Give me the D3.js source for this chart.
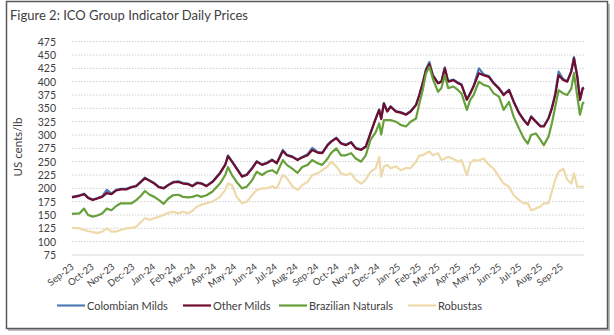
<!DOCTYPE html>
<html>
<head>
<meta charset="utf-8">
<script src="https://cdn.jsdelivr.net/npm/d3@7/dist/d3.min.js"></script>
<style>
html,body{margin:0;padding:0;background:#fff;}
svg{display:block;}
text{font-family:Lato,"Open Sans",sans-serif;fill:#404040;}
</style>
</head>
<body>
<svg id="chart" width="614" height="335"></svg>
<script>
const title = "Figure 2: ICO Group Indicator Daily Prices";
const yAxisTitle = "US cents/lb";
const seriesNames = ["Colombian Milds", "Other Milds", "Brazilian Naturals", "Robustas"];
const yTicks = [75,100,125,150,175,200,225,250,275,300,325,350,375,400,425,450,475];
const xTickMonths = ["2023-09-01","2023-10-01","2023-11-01","2023-12-01","2024-01-01","2024-02-01","2024-03-01",
"2024-04-01","2024-05-01","2024-06-01","2024-07-01","2024-08-01","2024-09-01","2024-10-01","2024-11-01","2024-12-01",
"2025-01-01","2025-02-01","2025-03-01","2025-04-01","2025-05-01","2025-06-01","2025-07-01","2025-08-01","2025-09-01"];

const dates = [
"2023-09-01","2023-09-12","2023-09-19","2023-09-25","2023-10-02","2023-10-09","2023-10-16","2023-10-23","2023-10-30",
"2023-11-06","2023-11-13","2023-11-21","2023-11-29","2023-12-06","2023-12-13","2023-12-19","2023-12-26",
"2024-01-02","2024-01-09","2024-01-16","2024-01-23","2024-01-30","2024-02-07","2024-02-14","2024-02-21","2024-02-28",
"2024-03-06","2024-03-12","2024-03-20","2024-03-29","2024-04-09","2024-04-17","2024-04-21","2024-04-27",
"2024-05-04","2024-05-12","2024-05-19","2024-05-27","2024-06-03","2024-06-11","2024-06-18","2024-06-26",
"2024-07-03","2024-07-12","2024-07-18","2024-07-26","2024-08-03","2024-08-10","2024-08-18","2024-08-25",
"2024-09-02","2024-09-09","2024-09-17","2024-09-22","2024-09-30","2024-10-07","2024-10-14","2024-10-22","2024-10-29",
"2024-11-06","2024-11-13","2024-11-20","2024-11-28","2024-12-03","2024-12-06","2024-12-10","2024-12-15","2024-12-20","2024-12-28",
"2025-01-04","2025-01-12","2025-01-19","2025-01-27","2025-02-01","2025-02-06","2025-02-11","2025-02-16","2025-02-21",
"2025-03-01","2025-03-06","2025-03-11","2025-03-16","2025-03-24","2025-03-31","2025-04-05","2025-04-13","2025-04-18","2025-04-23",
"2025-05-01","2025-05-08","2025-05-16","2025-05-23","2025-05-31","2025-06-07","2025-06-15","2025-06-22","2025-06-30",
"2025-07-07","2025-07-13","2025-07-18","2025-07-25","2025-08-01","2025-08-06","2025-08-13","2025-08-18","2025-08-23","2025-08-28",
"2025-09-04","2025-09-10","2025-09-16","2025-09-20","2025-09-25","2025-09-29","2025-10-03","2025-10-05"
];

const colombianMilds = [
184,187,190,183,179,182,185,197,190,
197,199,199,203,205,213,220,215,
210,203,201,207,212,213,210,209,205,
211,210,205,213,229,245,262,251,
238,223,226,238,251,245,248,254,
248,272,263,260,254,259,264,276,
268,267,282,288,295,285,282,287,276,
273,279,304,332,348,331,360,345,354,345,
343,339,345,357,376,398,424,437,413,
398,401,427,401,404,398,395,367,379,392,
425,414,410,398,388,376,385,363,342,
329,320,335,326,317,317,332,351,377,419,
405,401,420,446,410,367,388,389
];

const otherMilds = [
183,186,189,182,178,181,184,191,189,
196,198,198,202,204,212,219,214,
209,202,200,206,211,212,209,208,204,
210,209,204,212,228,244,260,250,
237,222,225,237,250,244,247,253,
247,270,262,259,253,258,262,272,
267,266,281,287,294,284,281,286,275,
272,278,303,331,347,330,359,344,353,344,
342,338,344,356,375,397,422,433,412,
397,400,425,400,403,397,394,366,378,391,
416,412,409,397,387,375,384,362,341,
328,319,334,325,316,316,331,350,375,412,
403,400,419,444,409,366,387,388
];

const brazilianNaturals = [
152,153,162,150,147,149,153,162,159,
167,172,172,172,178,186,195,188,
184,178,171,181,187,188,184,183,184,
187,184,187,194,209,225,240,225,
212,200,203,215,231,225,231,234,
228,253,244,237,229,240,244,253,
247,244,256,266,275,262,262,266,256,
250,262,291,306,322,301,328,328,328,325,
319,316,325,331,359,384,416,428,406,
381,388,412,388,391,384,378,347,366,375,
400,394,391,378,372,347,362,334,312,
294,284,300,303,291,281,297,322,353,384,
378,375,387,416,372,338,359,362
];

const robustas = [
126,125,122,120,118,116,119,125,119,
119,122,125,126,128,137,144,141,
144,147,150,154,156,153,156,153,158,
166,169,172,175,184,197,209,206,
184,172,175,187,197,200,200,204,
200,225,219,204,197,206,212,225,
228,234,241,250,241,228,225,228,216,
209,216,231,238,259,222,241,244,238,241,
234,238,238,250,262,262,266,269,262,
266,253,256,259,255,250,253,225,247,253,
252,256,244,237,222,209,203,187,178,
172,172,159,162,166,172,172,194,216,231,
237,216,209,228,203,203,203,203
];

const colors = ["#4f7db3", "#6e0d2e", "#67a03a", "#eed9ab"];

const svg = d3.select("#chart");

// frame
svg.append("rect").attr("x", 8).attr("y", 4).attr("width", 602).attr("height", 327)
  .attr("fill", "#bdbdbd");
svg.append("rect").attr("x", 6.5).attr("y", 1.5).attr("width", 601).attr("height", 327)
  .attr("fill", "#fff").attr("stroke", "#595959").attr("stroke-width", 1.5);

const parse = d3.utcParse("%Y-%m-%d");
const ds = dates.map(parse);

const x = d3.scaleUtc().domain([parse("2023-09-01"), parse("2025-10-05")]).range([72, 584]);
const y = d3.scaleLinear().domain([75, 475]).range([255, 41.7]);

// title
svg.append("text").attr("x", 10).attr("y", 19.5).attr("font-size", 13).text(title);

// y axis title
svg.append("text").attr("transform", "translate(22,147) rotate(-90)")
  .attr("text-anchor", "middle").attr("font-size", 11.5).text(yAxisTitle);

// gridlines
const grid = svg.append("g");
grid.selectAll("line").data(yTicks.filter(v => v > 75)).join("line")
  .attr("x1", 72).attr("x2", 584)
  .attr("y1", d => y(d)).attr("y2", d => y(d))
  .attr("stroke", "#cfcfcf").attr("stroke-width", 1).attr("stroke-dasharray", "1.5,1.5");
svg.append("line").attr("x1", 72).attr("x2", 584).attr("y1", y(75)).attr("y2", y(75))
  .attr("stroke", "#d9d9d9").attr("stroke-width", 1.2);

// y tick labels
const yAxis = d3.axisLeft(y).tickValues(yTicks).tickSize(0).tickPadding(0);
const gy = svg.append("g").attr("transform", "translate(56,0)").call(yAxis);
gy.select(".domain").remove();
gy.selectAll("text").attr("font-size", 10.5).attr("fill", "#404040")
  .style("font-family", "Lato, 'Open Sans', sans-serif");

// x axis labels
const xAxis = d3.axisBottom(x).tickValues(xTickMonths.map(parse)).tickFormat(d3.utcFormat("%b-%y")).tickSize(0).tickPadding(0);
const gx = svg.append("g").attr("transform", "translate(0,255)").call(xAxis);
gx.select(".domain").remove();
gx.selectAll("text")
  .attr("font-size", 9.5).attr("fill", "#404040")
  .style("font-family", "Lato, 'Open Sans', sans-serif")
  .attr("text-anchor", "end")
  .attr("dy", null).attr("y", 0)
  .attr("transform", "translate(2,13) rotate(-38)");

// lines
const seriesData = [colombianMilds, otherMilds, brazilianNaturals, robustas];
const line = d3.line().x((d, i) => x(ds[i])).y(d => y(d)).curve(d3.curveLinear);
const lineG = svg.append("g");
seriesData.forEach((vals, k) => {
  lineG.append("path").datum(vals).attr("d", line)
    .attr("fill", "none").attr("stroke", colors[k]).attr("stroke-width", 2.2)
    .attr("stroke-linejoin", "round");
});

// legend
const legendItems = [
  {name: seriesNames[0], lx: 57},
  {name: seriesNames[1], lx: 183},
  {name: seriesNames[2], lx: 279},
  {name: seriesNames[3], lx: 408}
];
const lg = svg.append("g");
legendItems.forEach((it, k) => {
  lg.append("line").attr("x1", it.lx).attr("x2", it.lx + 28).attr("y1", 305.5).attr("y2", 305.5)
    .attr("stroke", colors[k]).attr("stroke-width", 2.2);
  lg.append("text").attr("x", it.lx + 30).attr("y", 309.5).attr("font-size", 11).text(it.name);
});
</script>
</body>
</html>
